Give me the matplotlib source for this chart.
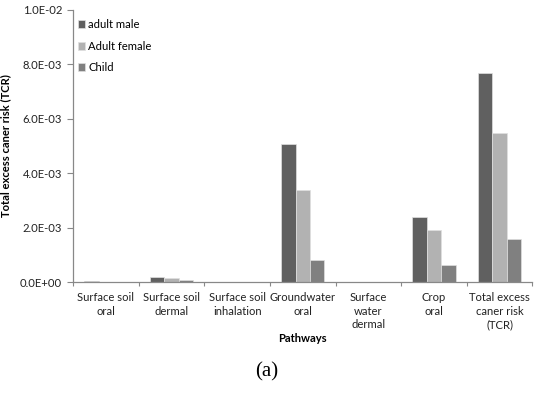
import matplotlib.pyplot as plt
import numpy as np

# categories and values
pathways = ['Surface soil\noral', 'Surface soil\ndermal', 'Surface soil\ninhalation',
            'Groundwater\noral', 'Surface\nwater\ndermal', 'Crop\noral',
            'Total excess\ncaner risk\n(TCR)']
adult_male = [3.0e-5, 1.9e-4, 1.0e-6, 5.06e-3, 1.0e-6, 2.39e-3, 7.68e-3]
adult_female = [2.0e-5, 1.5e-4, 1.0e-6, 3.40e-3, 1.0e-6, 1.91e-3, 5.48e-3]
child = [1.0e-5, 1.0e-4, 1.0e-6, 8.2e-4, 1.0e-6, 6.5e-4, 1.59e-3]
yticks = [0.0, 2e-3, 4e-3, 6e-3, 8e-3, 1e-2]
ytick_labels = ['0.0E+00', '2.0E-03', '4.0E-03', '6.0E-03', '8.0E-03', '1.0E-02']

plt.rcParams['font.family'] = ['Lato', 'DejaVu Sans']
fs = 8.1

fig = plt.figure(figsize=(5.34, 3.93), dpi=100)
ax = fig.add_axes([0.137, 0.2817, 0.86, 0.6933])

x = np.arange(len(pathways))
w = 0.22
series = [('adult male', adult_male, '#606060'),
          ('Adult female', adult_female, '#b2b2b2'),
          ('Child', child, '#808080')]
for i, (name, vals, col) in enumerate(series):
    ax.bar(x + (i - 1) * w, vals, w, color=col, edgecolor='#e0e0e0',
           linewidth=0.5, label=name)

ax.set_xlim(-0.5, len(pathways) - 0.5)
ax.set_ylim(0, 1e-2)
ax.set_yticks(yticks)
ax.set_yticklabels(ytick_labels)

# boundaries as major ticks, labels on minor ticks at centres
ax.set_xticks(np.arange(len(pathways) + 1) - 0.5)
ax.set_xticklabels([])
ax.set_xticks(x, minor=True)
ax.set_xticklabels(pathways, minor=True, fontsize=fs, color='#222222',
                   linespacing=1.3, va='top')
ax.tick_params(axis='x', which='minor', length=0, pad=7)
ax.tick_params(axis='x', which='major', length=3, color='#888888')
ax.tick_params(axis='y', length=4, color='#888888', labelsize=fs,
               labelcolor='#222222', pad=4)

for s in ['top', 'right']:
    ax.spines[s].set_visible(False)
for s in ['left', 'bottom']:
    ax.spines[s].set_color('#888888')
    ax.spines[s].set_linewidth(0.9)

ax.set_ylabel('Total excess caner risk (TCR)', fontsize=fs, fontweight='bold',
              labelpad=6)
ax.set_xlabel('Pathways', fontsize=fs, fontweight='bold', labelpad=2)

ax.legend(loc='upper left', bbox_to_anchor=(-0.01, 1.0), frameon=False,
          fontsize=fs, handlelength=0.7, handleheight=0.7, handletextpad=0.25,
          labelspacing=0.95, borderaxespad=0.4)

fig.text(0.5, 0.053, '(a)', ha='center', va='center', fontsize=15,
         family=['Liberation Serif', 'DejaVu Serif'])

fig.savefig('out.png', dpi=100)
